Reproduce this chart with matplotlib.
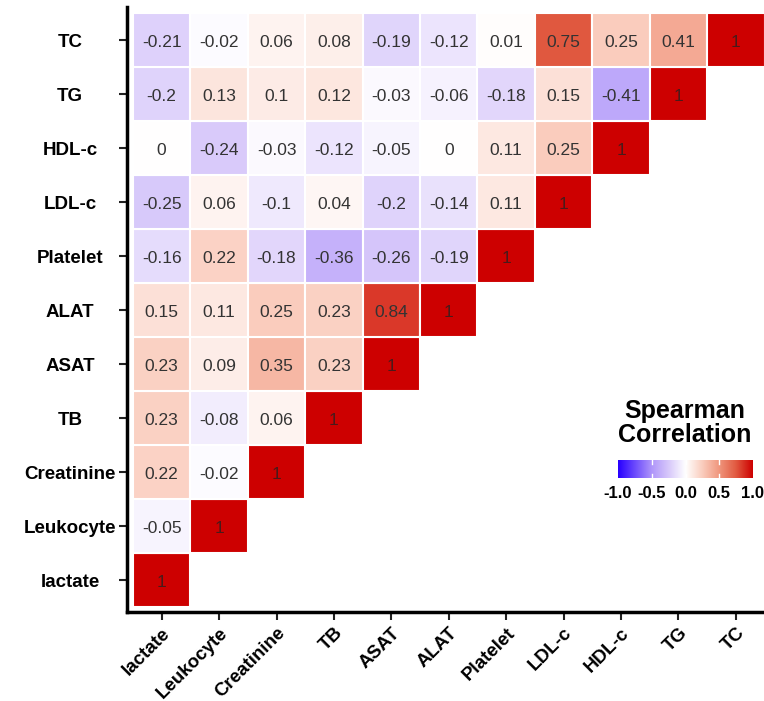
import numpy as np
import matplotlib
matplotlib.use("Agg")
import matplotlib.pyplot as plt
import matplotlib.transforms as mtransforms
from matplotlib.colors import LinearSegmentedColormap, Normalize
from matplotlib.patches import Rectangle

plt.rcParams['font.family'] = ['Liberation Sans', 'DejaVu Sans']

# variables, bottom-to-top on y and left-to-right on x
variables = ["lactate", "Leukocyte", "Creatinine", "TB", "ASAT", "ALAT",
             "Platelet", "LDL-c", "HDL-c", "TG", "TC"]

# lower-triangle rows, one per variable (row i has i+1 values, cols lactate..)
row_lactate = [1]
row_leukocyte = [-0.05, 1]
row_creatinine = [0.22, -0.02, 1]
row_tb = [0.23, -0.08, 0.06, 1]
row_asat = [0.23, 0.09, 0.35, 0.23, 1]
row_alat = [0.15, 0.11, 0.25, 0.23, 0.84, 1]
row_platelet = [-0.16, 0.22, -0.18, -0.36, -0.26, -0.19, 1]
row_ldl = [-0.25, 0.06, -0.1, 0.04, -0.2, -0.14, 0.11, 1]
row_hdl = [0, -0.24, -0.03, -0.12, -0.05, 0, 0.11, 0.25, 1]
row_tg = [-0.2, 0.13, 0.1, 0.12, -0.03, -0.06, -0.18, 0.15, -0.41, 1]
row_tc = [-0.21, -0.02, 0.06, 0.08, -0.19, -0.12, 0.01, 0.75, 0.25, 0.41, 1]

rows = [row_lactate, row_leukocyte, row_creatinine, row_tb, row_asat, row_alat,
        row_platelet, row_ldl, row_hdl, row_tg, row_tc]

legend_title = "Spearman\nCorrelation"
cbar_ticks = [-1.0, -0.5, 0.0, 0.5, 1.0]

# blue-white-red scale, tuned to look like ggplot's Lab interpolation
stops = [(0.0, (40, 0, 255)), (0.25, (175, 150, 250)), (0.375, (215, 200, 250)),
         (0.5, (255, 255, 255)), (0.625, (250, 205, 190)), (0.75, (240, 150, 125)),
         (0.875, (225, 90, 65)), (1.0, (205, 0, 0))]
cmap = LinearSegmentedColormap.from_list(
    "corr", [(p, tuple(c / 255 for c in rgb)) for p, rgb in stops])
norm = Normalize(-1, 1)

fig = plt.figure(figsize=(7.64, 7.01), dpi=100)
ax = fig.add_axes([127 / 764, 1 - 612 / 701, 1 - 127 / 764, (612 - 7) / 701])

# nudge text a little down so digits sit in the visual middle
cell_tf = mtransforms.offset_copy(ax.transData, fig=fig, y=-1.5, units="points")
for yi, vals in enumerate(rows):
    for xi, v in enumerate(vals):
        ax.add_patch(Rectangle((xi - 0.5, yi - 0.5), 1, 1, facecolor=cmap(norm(v)),
                               edgecolor="white", linewidth=1.5))
        ax.text(xi, yi, f"{v:g}", ha="center", va="center", fontsize=12.5,
                transform=cell_tf, color="#4a1a1a" if v == 1 else "#333333")

ax.set_xlim(-0.604, 10.49)
ax.set_ylim(-0.593, 10.61)
ax.set_xticks(range(len(variables)))
ax.set_yticks(range(len(variables)))
ax.set_xticklabels(variables, rotation=45, ha="right", va="top",
                   rotation_mode="anchor", fontsize=13.5, fontweight="bold")
ax.set_yticklabels([])
ax.tick_params(length=6, width=1.5, color="#222222", pad=3)

# y labels centred in the left margin, like ggplot's hjust=0.5
ylab_tf = mtransforms.offset_copy(
    mtransforms.blended_transform_factory(fig.transFigure, ax.transData),
    fig=fig, y=-1.5, units="points")
for yi, name in enumerate(variables):
    fig.text(70 / 764, yi, name, transform=ylab_tf, ha="center", va="center",
             fontsize=13.5, fontweight="bold")

for s in ["top", "right"]:
    ax.spines[s].set_visible(False)
for s in ["left", "bottom"]:
    ax.spines[s].set_linewidth(2.5)

# legend colorbar
fig.text(685 / 764, 1 - 423 / 701, legend_title, ha="center", va="center",
         fontsize=18, fontweight="bold", linespacing=1.0)
cax = fig.add_axes([618 / 764, 1 - 478 / 701, 135 / 764, 18 / 701])
grad = np.linspace(-1, 1, 256).reshape(1, -1)
cax.imshow(grad, aspect="auto", cmap=cmap, norm=norm, extent=(-1, 1, 0, 1))
cax.set_xlim(-1, 1)
cax.set_yticks([])
cax.set_xticks([])
for s in cax.spines.values():
    s.set_visible(False)
for t in cbar_ticks[1:-1]:
    cax.plot([t, t], [0, 0.2], color="white", lw=1)
    cax.plot([t, t], [0.8, 1], color="white", lw=1)
for t in cbar_ticks:
    fig.text((618 + (t + 1) / 2 * 135) / 764, 1 - 494 / 701, f"{t:.1f}",
             ha="center", va="center", fontsize=12, fontweight="bold")

fig.savefig("out.png", dpi=100)
